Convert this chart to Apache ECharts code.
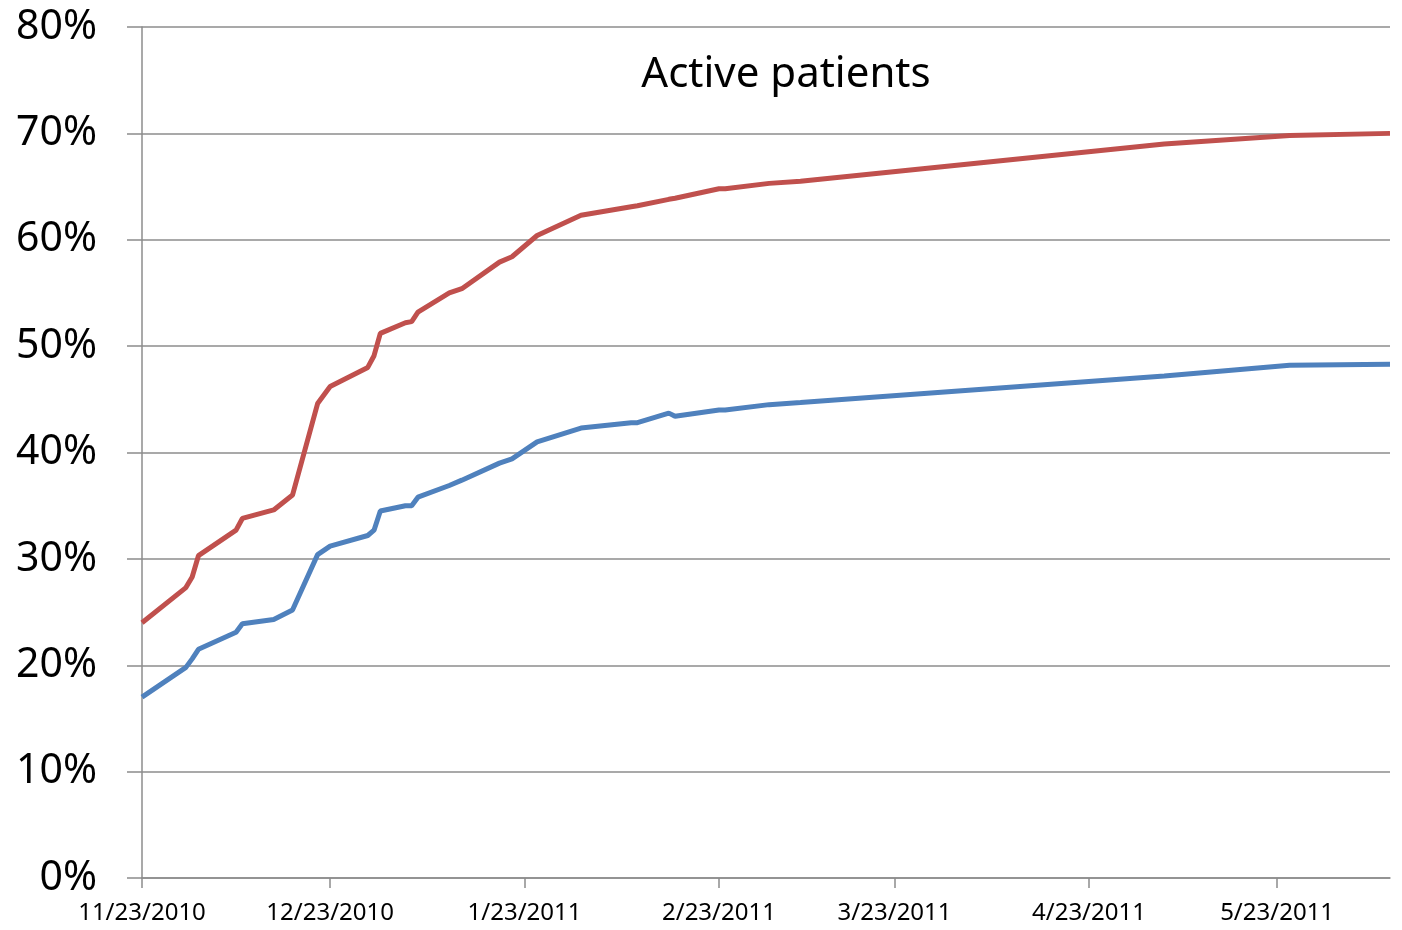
<!DOCTYPE html>
<html>
<head>
<meta charset="utf-8">
<title>Active patients</title>
<script src="https://cdn.jsdelivr.net/npm/echarts@6.0.0/dist/echarts.min.js"></script>
<style>
  html, body { margin: 0; padding: 0; background: #fff; }
  #mainChart { width: 1402px; height: 930px; }
</style>
</head>
<body>
<div id="mainChart"></div>
<script>
// dates of the readings
var dates = [
	'2010-11-23', '2010-11-30', '2010-12-01', '2010-12-02', '2010-12-08', '2010-12-09',
	'2010-12-14', '2010-12-17', '2010-12-21', '2010-12-23', '2010-12-29', '2010-12-30',
	'2010-12-31', '2011-01-04', '2011-01-05', '2011-01-06', '2011-01-11', '2011-01-13',
	'2011-01-19', '2011-01-21', '2011-01-25', '2011-02-01', '2011-02-09', '2011-02-10',
	'2011-02-15', '2011-02-16', '2011-02-23', '2011-02-24', '2011-03-03', '2011-03-08',
	'2011-05-05', '2011-05-25', '2011-06-10'
];
// red line (%)
var redValues = [
	24.0, 27.3, 28.3, 30.3, 32.7, 33.8,
	34.6, 36.0, 44.6, 46.2, 48.0, 49.1,
	51.2, 52.2, 52.3, 53.2, 55.0, 55.4,
	57.9, 58.4, 60.4, 62.3, 63.1, 63.2,
	63.8, 63.9, 64.8, 64.8, 65.3, 65.5,
	69.0, 69.8, 70.0
];
// blue line (%)
var blueValues = [
	17.0, 19.8, 20.6, 21.5, 23.1, 23.9,
	24.3, 25.2, 30.4, 31.2, 32.2, 32.7,
	34.5, 35.0, 35.0, 35.8, 36.9, 37.4,
	39.0, 39.4, 41.0, 42.3, 42.8, 42.8,
	43.7, 43.4, 44.0, 44.0, 44.5, 44.7,
	47.2, 48.2, 48.3
];
// x axis tick labels
var tickDates = ['2010-11-23', '2010-12-23', '2011-01-23', '2011-02-23', '2011-03-23', '2011-04-23', '2011-05-23'];
var xStart = '2010-11-23';
var xEnd = '2011-06-10';

var DAY = 86400000;

// date string -> days since xStart
function toDay(s) {
	var p = s.split('-');
	var q = xStart.split('-');
	var t = Date.UTC(+p[0], +p[1] - 1, +p[2]) - Date.UTC(+q[0], +q[1] - 1, +q[2]);
	return Math.round(t / DAY);
}

function dayLabel(v) {
	var q = xStart.split('-');
	var d = new Date(Date.UTC(+q[0], +q[1] - 1, +q[2]) + Math.round(v) * DAY);
	return (d.getUTCMonth() + 1) + '/' + d.getUTCDate() + '/' + d.getUTCFullYear();
}

function pairs(vals) {
	var out = [];
	for (var i = 0; i < dates.length; i++) {
		out.push([toDay(dates[i]), vals[i]]);
	}
	return out;
}

var gray = '#8c8c8c';
var font = 'Noto Sans';
var tickDays = tickDates.map(toDay);

var myChart = echarts.init(document.getElementById('mainChart'));
myChart.setOption({
	animation: false,
	backgroundColor: '#fff',
	title: {
		text: 'Active patients',
		left: 781,
		top: 49,
		textAlign: 'center',
		textStyle: { fontFamily: font, fontSize: 42, fontWeight: 'normal', color: '#000' }
	},
	grid: { left: 142, right: 12, top: 27, bottom: 52 },
	xAxis: {
		type: 'value',
		min: 0,
		max: toDay(xEnd),
		axisLine: { show: true, lineStyle: { color: gray, width: 1.5 } },
		axisTick: {
			show: true, length: 10,
			customValues: tickDays,
			lineStyle: { color: gray, width: 1.5 }
		},
		axisLabel: {
			customValues: tickDays,
			margin: 23,
			fontFamily: font,
			fontSize: 24,
			color: '#000',
			formatter: dayLabel
		},
		splitLine: { show: false }
	},
	yAxis: {
		type: 'value',
		min: 0,
		max: 80,
		interval: 10,
		axisLine: { show: true, lineStyle: { color: gray, width: 1.5 } },
		axisTick: { show: true, length: 15, lineStyle: { color: gray, width: 1.5 } },
		axisLabel: {
			margin: 45,
			fontFamily: font,
			fontSize: 41,
			color: '#000',
			formatter: '{value}%'
		},
		splitLine: { show: true, lineStyle: { color: gray, width: 1.5 } }
	},
	series: [
		{
			name: 'red',
			type: 'line',
			data: pairs(redValues),
			showSymbol: false,
			lineStyle: { color: '#C0504D', width: 5 },
			itemStyle: { color: '#C0504D' }
		},
		{
			name: 'blue',
			type: 'line',
			data: pairs(blueValues),
			showSymbol: false,
			lineStyle: { color: '#4F81BD', width: 5 },
			itemStyle: { color: '#4F81BD' }
		}
	]
});
</script>
</body>
</html>
